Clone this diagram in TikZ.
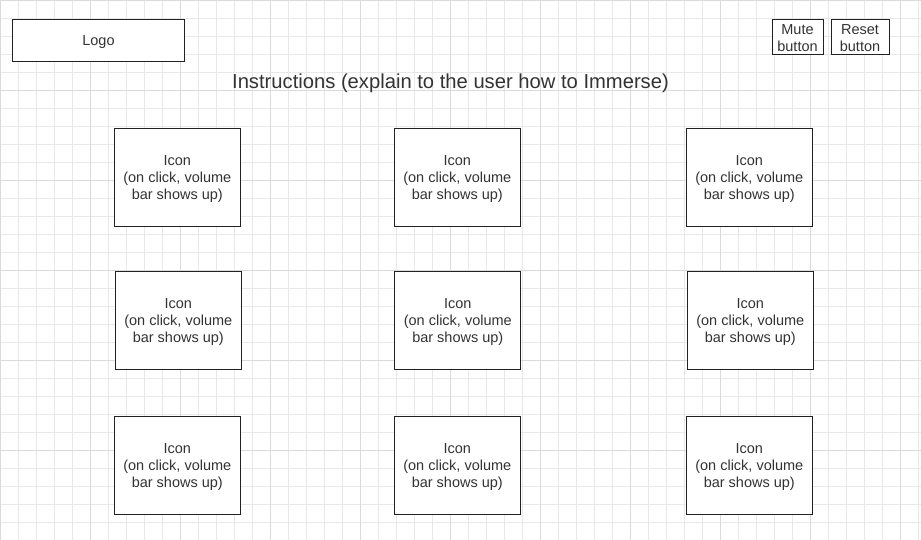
\documentclass[tikz,border=0pt]{standalone}
\usepackage{fontspec}
\setmainfont{Liberation Sans}
\definecolor{gridminor}{HTML}{E8E8E8}
\definecolor{gridmajor}{HTML}{DADADA}
\definecolor{txt}{HTML}{333333}
\definecolor{edge}{HTML}{222222}
\newcommand{\dnstrut}{\rule{0pt}{12.5pt}}
\begin{document}
\begin{tikzpicture}[x=1pt,y=-1pt,
  box/.style={draw=edge,line width=0.9pt,fill=white,inner sep=0pt,align=center,text=txt,
    font=\fontsize{14.5}{17}\selectfont},
  iconbox/.style={box,minimum width=126pt,minimum height=98pt},
  btnbox/.style={box,minimum height=35pt}]
\fill[white] (0,0) rectangle (921,540);
\useasboundingbox (0,0) rectangle (921,540);
% grid
\foreach \x in {18,36,...,918} {\draw[gridminor,line width=0.8pt] (\x,0) -- (\x,540);}
\foreach \y in {18,36,...,540} {\draw[gridminor,line width=0.8pt] (0,\y) -- (921,\y);}
\foreach \x in {0,90,...,900} {\draw[gridmajor,line width=0.8pt] (\x,0) -- (\x,540);}
\foreach \y in {0,90,...,540} {\draw[gridmajor,line width=0.8pt] (0,\y) -- (921,\y);}
% header
\node[box,minimum width=172pt,minimum height=42pt] (logo) at (98.5,40.5) {\dnstrut Logo};
\node[btnbox,minimum width=51pt] (mute) at (797.5,36.5) {\dnstrut Mute\\button};
\node[btnbox,minimum width=58pt] (reset) at (860,36.5) {\dnstrut Reset\\button};
\node[text=txt,font=\fontsize{20.2}{24}\selectfont,inner sep=0pt] (instr) at (450.5,83)
  {Instructions (explain to the user how to Immerse)};
% icons
\newcommand{\icontext}{\dnstrut Icon\\(on click, volume\\bar shows up)}
\node[iconbox] (i11) at (177.3,177.3) {\icontext};
\node[iconbox] (i12) at (457.3,177.3) {\icontext};
\node[iconbox] (i13) at (749.3,177.3) {\icontext};
\node[iconbox] (i21) at (178.3,320.3) {\icontext};
\node[iconbox] (i22) at (457.8,320.3) {\icontext};
\node[iconbox] (i23) at (750.3,320.3) {\icontext};
\node[iconbox] (i31) at (177.3,465.3) {\icontext};
\node[iconbox] (i32) at (457.3,465.3) {\icontext};
\node[iconbox] (i33) at (749.3,465.3) {\icontext};
\end{tikzpicture}
\end{document}
